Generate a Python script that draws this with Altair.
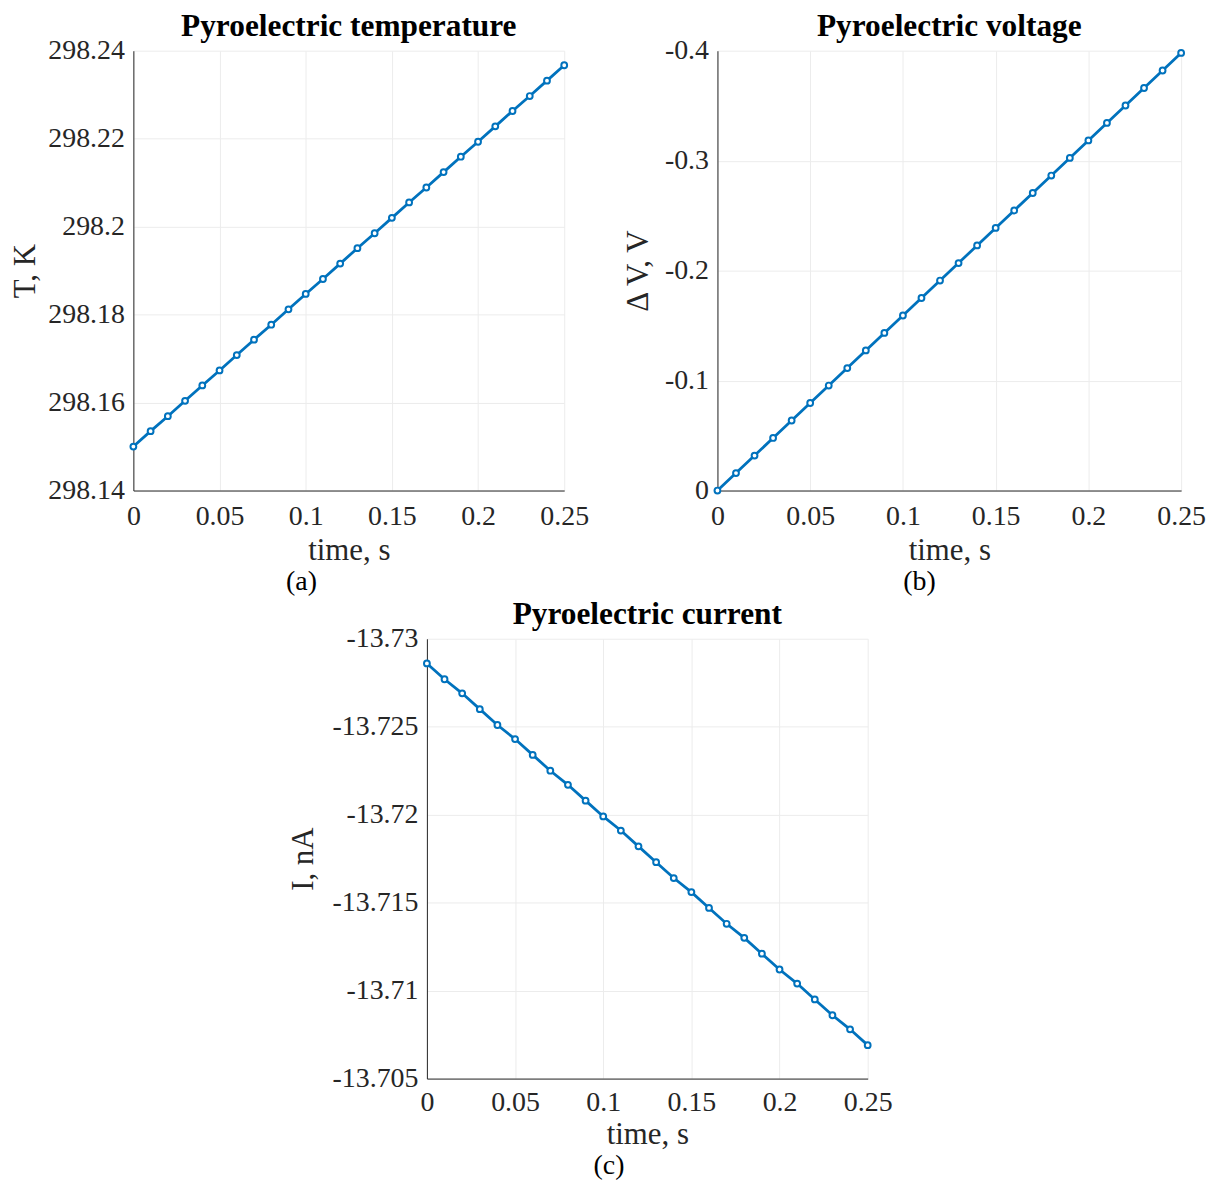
import altair as alt
import pandas as pd

# ---- data ----
time_s = [0.00, 0.01, 0.02, 0.03, 0.04, 0.05, 0.06, 0.07, 0.08, 0.09, 0.10, 0.11, 0.12,
          0.13, 0.14, 0.15, 0.16, 0.17, 0.18, 0.19, 0.20, 0.21, 0.22, 0.23, 0.24, 0.25]

temperature_K = [298.1500, 298.1535, 298.1569, 298.1604, 298.1639, 298.1673, 298.1708,
                 298.1743, 298.1777, 298.1812, 298.1847, 298.1881, 298.1916, 298.1951,
                 298.1985, 298.2020, 298.2055, 298.2089, 298.2124, 298.2159, 298.2193,
                 298.2228, 298.2263, 298.2297, 298.2332, 298.2367]

voltage_V = [0.0000, -0.0159, -0.0318, -0.0478, -0.0637, -0.0796, -0.0955, -0.1114,
             -0.1274, -0.1433, -0.1592, -0.1751, -0.1910, -0.2069, -0.2229, -0.2388,
             -0.2547, -0.2706, -0.2865, -0.3025, -0.3184, -0.3343, -0.3502, -0.3661,
             -0.3820, -0.3980]

current_nA = [-13.7286, -13.7277, -13.7269, -13.7260, -13.7251, -13.7243, -13.7234,
              -13.7225, -13.7217, -13.7208, -13.7199, -13.7191, -13.7182, -13.7173,
              -13.7164, -13.7156, -13.7147, -13.7138, -13.7130, -13.7121, -13.7112,
              -13.7104, -13.7095, -13.7086, -13.7078, -13.7069]

x_ticks = [0, 0.05, 0.1, 0.15, 0.2, 0.25]
t_ticks = [298.14, 298.16, 298.18, 298.2, 298.22, 298.24]
v_ticks = [0, -0.1, -0.2, -0.3, -0.4]
i_ticks = [-13.73, -13.725, -13.72, -13.715, -13.71, -13.705]

BLUE = "#0072BD"
FONT = "Liberation Serif"
LABEL_EXPR = "replace(format(datum.value, '.6~g'), '\u2212', '-')"


def panel(values, ytitle, title, ydomain, yticks, reverse, label, w, h, label_x,
          label_dy, ytpad, xlpad, xtpad):
    df = pd.DataFrame({"t": time_s, "v": values})
    base = alt.Chart(df)
    x = alt.X("t:Q",
              scale=alt.Scale(domain=[0, 0.25], nice=False),
              axis=alt.Axis(values=x_ticks, labelExpr=LABEL_EXPR, title="time, s",
                            labelPadding=xlpad, titlePadding=xtpad))
    y = alt.Y("v:Q",
              scale=alt.Scale(domain=ydomain, nice=False, zero=False, reverse=reverse),
              axis=alt.Axis(values=yticks, labelExpr=LABEL_EXPR, title=ytitle,
                            labelPadding=9, titlePadding=ytpad))
    line = base.mark_line(color=BLUE, strokeWidth=2.8).encode(x=x, y=y)
    pts = base.mark_point(shape="circle", stroke=BLUE, fill="white", fillOpacity=1,
                          opacity=1, strokeWidth=2, size=34).encode(x=x, y=y)
    ttl = alt.Chart(pd.DataFrame({"ttl": [title]})).mark_text(
        font=FONT, fontSize=31.5, fontWeight="bold", color="black",
        baseline="middle", align="center"
    ).encode(text="ttl:N", x=alt.value(w / 2), y=alt.value(-24))
    lab = alt.Chart(pd.DataFrame({"lab": [label]})).mark_text(
        font=FONT, fontSize=28, color="black", baseline="middle", align="center"
    ).encode(text="lab:N", x=alt.value(label_x), y=alt.value(h + label_dy))
    return alt.layer(line, pts, ttl, lab).properties(width=w, height=h)


pa = panel(temperature_K, "T, K", "Pyroelectric temperature", [298.14, 298.24], t_ticks,
           False, "(a)", 433, 442, 169, 92, 6, 12, 5)
pb = panel(voltage_V, "\u0394 V, V", "Pyroelectric voltage", [-0.4, 0], v_ticks,
           True, "(b)", 466, 442, 203, 92, 10, 12, 5)
pc = panel(current_nA, "I, nA", "Pyroelectric current", [-13.73, -13.705], i_ticks,
           True, "(c)", 443, 442, 183, 88, 13, 10, 3)

spacer = alt.Chart(pd.DataFrame({"s": [0]})).mark_point(opacity=0).encode(
    x=alt.value(0), y=alt.value(0)
).properties(width=154, height=1)

top = alt.hconcat(pa, pb, spacing=33)
bottom = alt.hconcat(spacer, pc, spacing=0)
chart = alt.vconcat(top, bottom, spacing=3).properties(
    padding={"left": 2, "top": 0, "right": 0, "bottom": 0}
).configure_axis(
    labelFont=FONT, labelFontSize=28, labelColor="#262626",
    titleFont=FONT, titleFontSize=31, titleFontWeight="normal", titleColor="#262626",
    domainColor="#262626", domainWidth=1, gridColor="#ececec", gridWidth=1,
    ticks=False, labelFlush=False, labelOverlap=False,
).configure_view(stroke=None)

chart.save("out.html", embed_options={"renderer": "svg", "actions": False})
